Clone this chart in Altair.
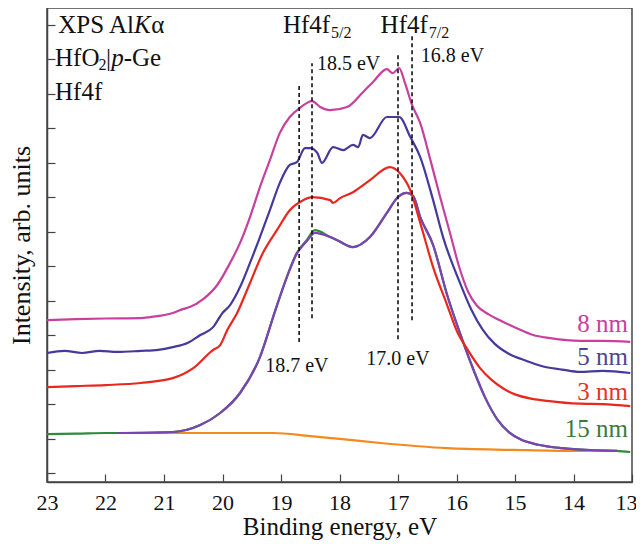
import altair as alt
import pandas as pd

# ---------------- data (binding energy, eV ; intensity, arb. units) ----------------
E_8nm = [23.0, 22.5, 22.0, 21.4, 21.24, 20.85, 20.68, 20.56, 20.33, 20.09, 19.87, 19.70, 19.53,
         19.36, 19.19, 19.02, 18.85, 18.68, 18.47, 18.33, 18.16, 17.87, 17.6, 17.43, 17.19, 17.09,
         16.98, 16.88, 16.76, 16.62, 16.45, 16.28, 16.11, 15.95, 15.8, 15.65, 15.45, 15.26, 14.97,
         14.69, 14.4, 13.89, 13.5, 13.03]
I_8nm = [4.43, 4.46, 4.48, 4.49, 4.52, 4.64, 4.75, 4.81, 5.04, 5.45, 6.09, 6.67, 7.42,
         8.29, 9.07, 9.86, 10.32, 10.58, 10.78, 10.61, 10.52, 10.61, 11.04, 11.33, 11.71, 11.59,
         11.74, 11.30, 10.67, 10.14, 9.10, 8.00, 6.95, 5.95, 5.25, 4.85, 4.60, 4.43, 4.20,
         4.00, 3.91, 3.83, 3.83, 3.80]

E_5nm = [23.0, 22.7, 22.4, 22.1, 21.8, 21.4, 21.1, 20.85, 20.6, 20.38, 20.16, 20.0, 19.87, 19.7,
         19.53, 19.36, 19.19, 19.02, 18.85, 18.73, 18.59, 18.5, 18.38, 18.3, 18.11, 17.94, 17.77,
         17.68, 17.6, 17.48, 17.19, 16.98, 16.79, 16.62, 16.40, 16.23, 15.94, 15.75, 15.55, 15.35,
         15.1, 14.8, 14.5, 14.2, 13.89, 13.5, 13.03]
I_5nm = [3.48, 3.54, 3.48, 3.54, 3.51, 3.54, 3.57, 3.65, 3.77, 4.00, 4.23, 4.64, 4.87, 5.39,
         6.09, 6.84, 7.62, 8.41, 8.93, 9.01, 9.42, 9.42, 9.28, 8.99, 9.45, 9.36, 9.51,
         9.45, 9.80, 9.71, 10.32, 10.32, 9.74, 9.16, 7.91, 6.84, 5.51, 4.75, 4.15, 3.75,
         3.45, 3.25, 3.08, 3.00, 2.93, 2.96, 2.90]

E_3nm = [23.0, 22.5, 22.0, 21.4, 20.85, 20.5, 20.16, 20.04, 19.92, 19.75, 19.53, 19.31, 19.07,
         18.85, 18.62, 18.47, 18.16, 18.11, 17.99, 17.77, 17.48, 17.14, 16.97, 16.79, 16.62,
         16.40, 16.16, 15.99, 15.8, 15.6, 15.4, 15.2, 15.0, 14.7, 14.45, 13.9, 13.5, 13.03]
I_3nm = [2.49, 2.52, 2.55, 2.61, 2.75, 3.04, 3.57, 3.71, 4.14, 4.64, 5.51, 6.38, 7.04,
         7.62, 7.91, 8.00, 7.91, 7.83, 7.97, 8.14, 8.49, 8.87, 8.70, 8.20, 7.25,
         5.97, 4.87, 4.10, 3.55, 3.05, 2.70, 2.45, 2.28, 2.15, 2.09, 2.01, 2.00, 1.94]

E_15nm = [23.0, 22.5, 22.0, 21.8, 20.85, 20.38, 20.04, 19.70, 19.36, 19.1, 18.9, 18.73, 18.56,
          18.42, 18.16, 18.04, 17.77, 17.48, 17.19, 17.0, 16.85, 16.74, 16.62, 16.4, 16.16,
          15.9, 15.7, 15.5, 15.3, 15.1, 14.9, 14.6, 14.2, 13.6, 13.26, 13.03]
I_15nm = [1.13, 1.14, 1.16, 1.16, 1.19, 1.39, 1.74, 2.32, 3.36, 4.70, 5.68, 6.38, 6.75,
          7.04, 6.84, 6.75, 6.55, 6.84, 7.54, 8.00, 8.12, 8.03, 7.42, 6.61, 5.16,
          3.86, 2.95, 2.15, 1.55, 1.18, 0.97, 0.82, 0.72, 0.66, 0.64, 0.61]

E_fit = [21.8, 20.85, 20.38, 20.04, 19.70, 19.36, 19.1, 18.9, 18.73, 18.56, 18.42, 18.16,
         18.04, 17.77, 17.48, 17.19, 17.0, 16.85, 16.74, 16.62, 16.4, 16.16, 15.9, 15.7,
         15.5, 15.3, 15.1, 14.9, 14.6, 14.2, 13.6, 13.26]
I_fit = [1.16, 1.19, 1.39, 1.74, 2.32, 3.36, 4.70, 5.68, 6.36, 6.72, 6.96, 6.84,
         6.75, 6.55, 6.84, 7.54, 8.00, 8.12, 8.03, 7.42, 6.61, 5.16, 3.86, 2.95,
         2.15, 1.55, 1.18, 0.97, 0.82, 0.72, 0.66, 0.64]

E_bg = [21.8, 20.0, 19.14, 18.5, 18.0, 17.3, 16.16, 15.03, 14.0, 13.26]
I_bg = [1.16, 1.16, 1.16, 1.07, 0.99, 0.87, 0.72, 0.67, 0.64, 0.64]

series_names = ["bg", "15 nm", "fit", "3 nm", "5 nm", "8 nm"]
series_colors = ["#f28a1e", "#2f8a3a", "#7a44b4", "#e8281e", "#443a9c", "#c8409e"]

# dashed peak markers
peak_E = [18.69, 18.47, 17.00, 16.76]
peak_top = [11.30, 11.88, 12.17, 12.75]
peak_bot = [3.80, 4.49, 3.88, 4.43]

x_ticks = [13, 14, 15, 16, 17, 18, 19, 20, 21, 22, 23]
y_ticks = list(range(0, 14))

FONT = "Liberation Serif, Times New Roman, Times, serif"

curves = {
    "bg": (E_bg, I_bg), "15 nm": (E_15nm, I_15nm), "fit": (E_fit, I_fit),
    "3 nm": (E_3nm, I_3nm), "5 nm": (E_5nm, I_5nm), "8 nm": (E_8nm, I_8nm),
}

xscale = alt.Scale(domain=[13, 23], reverse=True, nice=False, zero=False)
yscale = alt.Scale(domain=[-0.26, 13.48], nice=False, zero=False)

xaxis = alt.Axis(values=x_ticks, title="Binding energy, eV", grid=False,
                 tickSize={"expr": "-8"}, labelPadding=18, titlePadding=1, labelFlush=False,
                 labelOffset={"expr": "datum.value == 13 ? -6 : 0"},
                 labelFont=FONT, labelFontSize=22, labelColor="#111",
                 titleFont=FONT, titleFontSize=25, titleFontWeight="normal", titleColor="#111",
                 domainColor="#444", domainWidth=1.5, tickColor="#444", tickWidth=1.2)
yaxis = alt.Axis(values=y_ticks, title="Intensity, arb. units", grid=False, labels=False,
                 tickSize={"expr": "-8"}, titlePadding=12,
                 titleFont=FONT, titleFontSize=26, titleFontWeight="normal", titleColor="#111",
                 domainColor="#444", domainWidth=1.5, tickColor="#444", tickWidth=1.2)


def X(field):
    return alt.X(field, type="quantitative", scale=xscale, axis=xaxis)


def Y(field):
    return alt.Y(field, type="quantitative", scale=yscale, axis=yaxis)


layers = []
for name, col in zip(series_names, series_colors):
    E, I = curves[name]
    df = pd.DataFrame({"E": E, "I": I})
    layers.append(alt.Chart(df).mark_line(color=col, strokeWidth=2.2, interpolate="monotone")
                  .encode(x=X("E"), y=Y("I")))

peaks_df = pd.DataFrame({"E": peak_E, "top": peak_top, "bot": peak_bot})
layers.append(alt.Chart(peaks_df).mark_rule(color="#111", strokeWidth=1.6, strokeDash=[4, 3])
              .encode(x=X("E"), y=Y("bot"), y2="top:Q"))


def txt(rows, align="left", size=24, color="#111", style="normal"):
    df = pd.DataFrame(rows, columns=["E", "I", "t"])
    return (alt.Chart(df).mark_text(align=align, baseline="alphabetic", font=FONT,
                                    fontSize=size, color=color, fontStyle=style)
            .encode(x=X("E"), y=Y("I"), text="t:N"))


# top-left caption
layers.append(txt([(21.513, 12.75, "XPS Al")], align="right", size=25))
layers.append(txt([(21.513, 12.75, "K")], size=25, style="italic"))
layers.append(txt([(21.22, 12.75, "α")], size=25))
layers.append(txt([(22.863, 11.80, "HfO"), (22.863, 10.81, "Hf4f")], size=25))
layers.append(txt([(22.12, 11.68, "2")], size=16))
layers.append(txt([(21.99, 11.80, "|"), (21.69, 11.80, "-Ge")], size=25))
layers.append(txt([(21.90, 11.80, "p")], size=25, style="italic"))

# peak labels
layers.append(txt([(18.16, 12.75, "Hf4f"), (16.49, 12.75, "Hf4f")], align="right", size=25))
layers.append(txt([(18.145, 12.60, "5/2"), (16.475, 12.60, "7/2")], size=16))
layers.append(txt([(18.385, 11.68, "18.5 eV"), (16.61, 11.91, "16.8 eV")], size=20))
layers.append(txt([(18.73, 2.93, "18.7 eV"), (17.0, 3.13, "17.0 eV")], align="center", size=20))

# series labels
layers.append(txt([(13.068, 4.09, "8 nm")], align="right", size=25, color="#c8409e"))
layers.append(txt([(13.068, 3.13, "5 nm")], align="right", size=25, color="#4a4790"))
layers.append(txt([(13.068, 2.12, "3 nm")], align="right", size=25, color="#e8331f"))
layers.append(txt([(13.068, 1.04, "15 nm")], align="right", size=25, color="#3c7a3c"))

chart = alt.layer(*layers).properties(
    width=585, height=474,
    autosize=alt.AutoSizeParams(type="none"),
    padding={"left": 39, "top": 0, "right": 4, "bottom": 60},
    background="white",
).configure_view(stroke="#444", strokeWidth=1.5)

chart.save("out.html", embed_options={"renderer": "svg", "actions": False})
